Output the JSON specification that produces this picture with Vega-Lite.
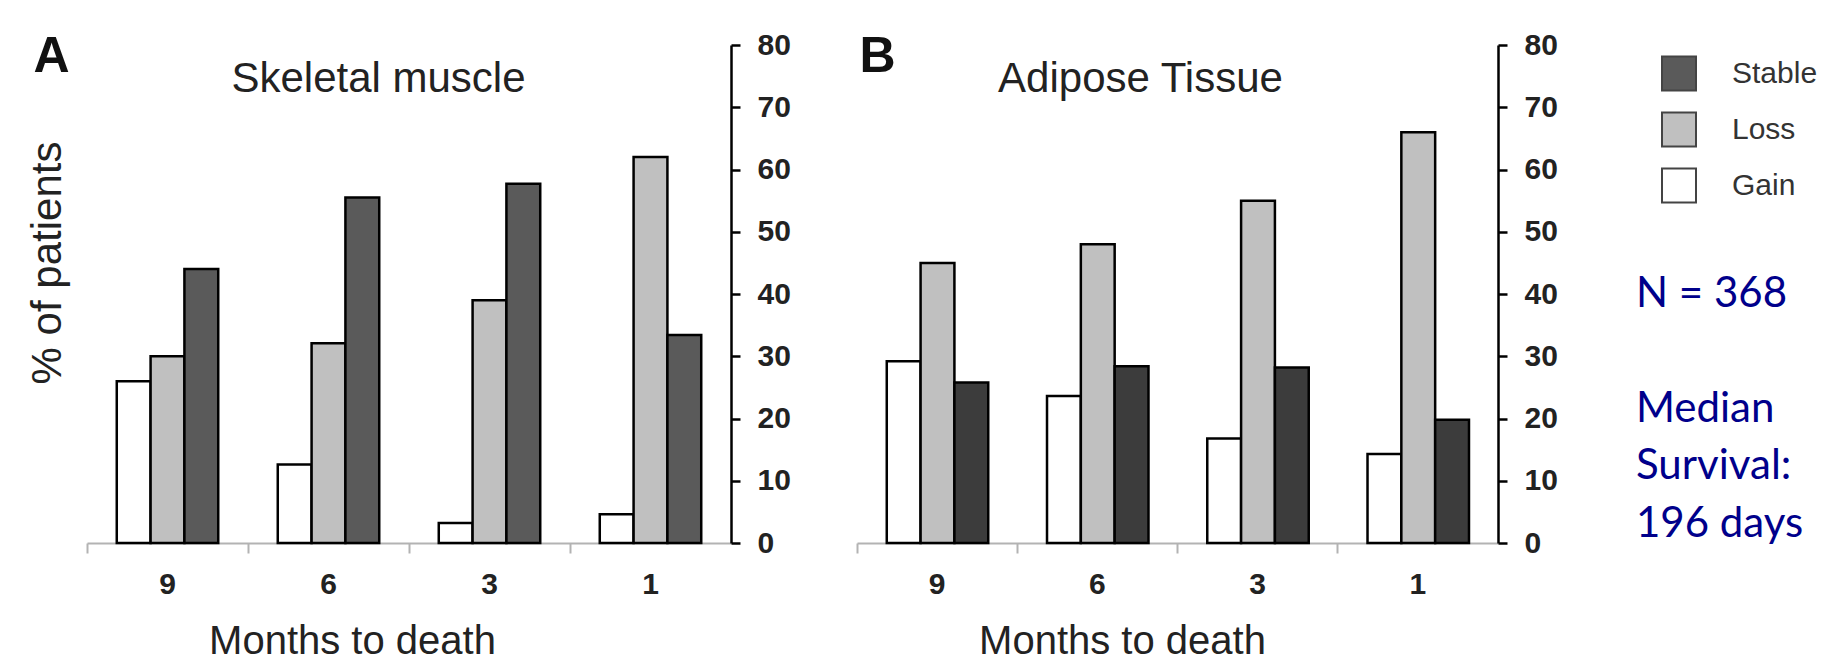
{
  "$schema": "https://vega.github.io/schema/vega-lite/v6.json",
  "background": "white",
  "padding": {"left": 25, "top": 30, "right": 0, "bottom": 0},
  "bounds": "flush",
  "spacing": 126,
  "datasets": {
    "muscle": [
      {"month": "9", "status": "Gain", "pct": 26},
      {"month": "9", "status": "Loss", "pct": 30},
      {"month": "9", "status": "Stable", "pct": 44},
      {"month": "6", "status": "Gain", "pct": 12.6},
      {"month": "6", "status": "Loss", "pct": 32.1},
      {"month": "6", "status": "Stable", "pct": 55.5},
      {"month": "3", "status": "Gain", "pct": 3.2},
      {"month": "3", "status": "Loss", "pct": 39},
      {"month": "3", "status": "Stable", "pct": 57.7},
      {"month": "1", "status": "Gain", "pct": 4.6},
      {"month": "1", "status": "Loss", "pct": 62},
      {"month": "1", "status": "Stable", "pct": 33.4}
    ],
    "adipose": [
      {"month": "9", "status": "Gain", "pct": 29.2},
      {"month": "9", "status": "Loss", "pct": 45},
      {"month": "9", "status": "Stable", "pct": 25.8},
      {"month": "6", "status": "Gain", "pct": 23.6},
      {"month": "6", "status": "Loss", "pct": 48},
      {"month": "6", "status": "Stable", "pct": 28.4},
      {"month": "3", "status": "Gain", "pct": 16.8},
      {"month": "3", "status": "Loss", "pct": 55},
      {"month": "3", "status": "Stable", "pct": 28.2},
      {"month": "1", "status": "Gain", "pct": 14.3},
      {"month": "1", "status": "Loss", "pct": 66},
      {"month": "1", "status": "Stable", "pct": 19.8}
    ],
    "notes": [
      {"line": "N = 368", "row": 1},
      {"line": "Median", "row": 3},
      {"line": "Survival:", "row": 4},
      {"line": "196 days", "row": 5}
    ]
  },
  "resolve": {"scale": {"color": "independent"}},
  "hconcat": [
    {
      "width": 644,
      "height": 498,
      "data": {"name": "muscle"},
      "resolve": {"axis": {"x": "independent", "y": "independent"}},
      "layer": [
        {
          "mark": {"type": "bar", "stroke": "black", "strokeWidth": 2.5},
          "encoding": {
            "x": {"field": "month", "type": "nominal", "sort": ["9", "6", "3", "1"], "scale": {"paddingInner": 0, "paddingOuter": 0},
              "axis": {"orient": "bottom", "ticks": false, "tickSize": 0, "domainColor": "#b3b3b3", "domainWidth": 2, "labelFont": "Liberation Sans", "labelFontWeight": "bold", "labelFontSize": 30, "labelColor": "#222222", "labelPadding": 26, "labelAngle": 0, "title": "Months to death", "titleFont": "Liberation Sans", "titleFontSize": 40, "titleFontWeight": "normal", "titleColor": "#222222", "titleX": 265, "titleY": 110, "titleAlign": "center", "titleBaseline": "alphabetic"}},
            "xOffset": {"field": "status", "type": "nominal", "sort": ["Gain", "Loss", "Stable"], "scale": {"paddingInner": 0, "paddingOuter": 0.88}},
            "y": {"field": "pct", "type": "quantitative", "scale": {"domain": [0, 80]},
              "axis": {"orient": "right", "values": [0, 10, 20, 30, 40, 50, 60, 70, 80], "domainColor": "black", "domainWidth": 2.5, "tickColor": "black", "tickWidth": 2.5, "tickSize": 9, "labelFont": "Liberation Sans", "labelFontWeight": "bold", "labelFontSize": 30, "labelColor": "#222222", "labelPadding": 17, "title": null}},
            "color": {"field": "status", "type": "nominal", "scale": {"domain": ["Stable", "Loss", "Gain"], "range": ["#5a5a5a", "#c0c0c0", "#ffffff"]},
              "legend": {"orient": "none", "legendX": 1574, "legendY": 10.5, "title": null, "padding": 0, "symbolType": "square", "symbolSize": 1156, "symbolStrokeColor": "#444444", "symbolStrokeWidth": 2, "labelFont": "Liberation Sans", "labelFontSize": 30, "labelColor": "#333333", "labelOffset": 35, "rowPadding": 14}}
          }
        },
        {
          "mark": {"type": "bar", "opacity": 0},
          "encoding": {
            "x": {"field": "month", "type": "nominal", "sort": ["9", "6", "3", "1"], "scale": {"paddingInner": 0, "paddingOuter": 0},
              "axis": {"orient": "bottom", "bandPosition": 0, "labels": false, "domain": false, "ticks": true, "tickColor": "#b3b3b3", "tickWidth": 2, "tickSize": 10, "title": null}},
            "xOffset": {"field": "status", "type": "nominal", "sort": ["Gain", "Loss", "Stable"], "scale": {"paddingInner": 0, "paddingOuter": 0.88}},
            "y": {"field": "pct", "type": "quantitative", "scale": {"domain": [0, 80]},
              "axis": {"orient": "left", "labels": false, "ticks": false, "domain": false, "title": "% of patients", "titleFont": "Liberation Sans", "titleFontSize": 42, "titleFontWeight": "normal", "titleColor": "#222222", "titleAngle": 270, "titleX": -27, "titleY": 217.5, "titleAlign": "center", "titleBaseline": "alphabetic"}}
          }
        },
        {
          "mark": {"type": "bar", "opacity": 0},
          "encoding": {
            "x": {"field": "month", "type": "nominal", "sort": ["9", "6", "3", "1"], "scale": {"paddingInner": 0, "paddingOuter": 0},
              "axis": {"orient": "top", "labels": false, "ticks": false, "domain": false, "title": "Skeletal muscle", "titleFont": "Liberation Sans", "titleFontSize": 42, "titleFontWeight": "normal", "titleColor": "#222222", "titleX": 291, "titleY": 46.5, "titleAlign": "center", "titleBaseline": "alphabetic"}},
            "xOffset": {"field": "status", "type": "nominal", "sort": ["Gain", "Loss", "Stable"], "scale": {"paddingInner": 0, "paddingOuter": 0.88}},
            "y": {"field": "pct", "type": "quantitative", "scale": {"domain": [0, 80]},
              "axis": {"orient": "left", "labels": false, "ticks": false, "domain": false, "title": "A", "titleFont": "Liberation Sans", "titleFontSize": 50, "titleFontWeight": "bold", "titleColor": "#111111", "titleAngle": 0, "titleX": -54, "titleY": 26.5, "titleAlign": "left", "titleBaseline": "alphabetic"}}
          }
        }
      ]
    },
    {
      "width": 641,
      "height": 498,
      "data": {"name": "adipose"},
      "resolve": {"axis": {"x": "independent", "y": "independent"}},
      "layer": [
        {
          "mark": {"type": "bar", "stroke": "black", "strokeWidth": 2.5},
          "encoding": {
            "x": {"field": "month", "type": "nominal", "sort": ["9", "6", "3", "1"], "scale": {"paddingInner": 0, "paddingOuter": 0},
              "axis": {"orient": "bottom", "ticks": false, "tickSize": 0, "domainColor": "#b3b3b3", "domainWidth": 2, "labelFont": "Liberation Sans", "labelFontWeight": "bold", "labelFontSize": 30, "labelColor": "#222222", "labelPadding": 26, "labelAngle": 0, "title": "Months to death", "titleFont": "Liberation Sans", "titleFontSize": 40, "titleFontWeight": "normal", "titleColor": "#222222", "titleX": 265, "titleY": 110, "titleAlign": "center", "titleBaseline": "alphabetic"}},
            "xOffset": {"field": "status", "type": "nominal", "sort": ["Gain", "Loss", "Stable"], "scale": {"paddingInner": 0, "paddingOuter": 0.88}},
            "y": {"field": "pct", "type": "quantitative", "scale": {"domain": [0, 80]},
              "axis": {"orient": "right", "values": [0, 10, 20, 30, 40, 50, 60, 70, 80], "domainColor": "black", "domainWidth": 2.5, "tickColor": "black", "tickWidth": 2.5, "tickSize": 9, "labelFont": "Liberation Sans", "labelFontWeight": "bold", "labelFontSize": 30, "labelColor": "#222222", "labelPadding": 17, "title": null}},
            "color": {"field": "status", "type": "nominal", "scale": {"domain": ["Stable", "Loss", "Gain"], "range": ["#3c3c3c", "#c0c0c0", "#ffffff"]}, "legend": null}
          }
        },
        {
          "mark": {"type": "bar", "opacity": 0},
          "encoding": {
            "x": {"field": "month", "type": "nominal", "sort": ["9", "6", "3", "1"], "scale": {"paddingInner": 0, "paddingOuter": 0},
              "axis": {"orient": "bottom", "bandPosition": 0, "labels": false, "domain": false, "ticks": true, "tickColor": "#b3b3b3", "tickWidth": 2, "tickSize": 10, "title": null}},
            "xOffset": {"field": "status", "type": "nominal", "sort": ["Gain", "Loss", "Stable"], "scale": {"paddingInner": 0, "paddingOuter": 0.88}},
            "y": {"field": "pct", "type": "quantitative", "scale": {"domain": [0, 80]}, "axis": null}
          }
        },
        {
          "mark": {"type": "bar", "opacity": 0},
          "encoding": {
            "x": {"field": "month", "type": "nominal", "sort": ["9", "6", "3", "1"], "scale": {"paddingInner": 0, "paddingOuter": 0},
              "axis": {"orient": "top", "labels": false, "ticks": false, "domain": false, "title": "Adipose Tissue", "titleFont": "Liberation Sans", "titleFontSize": 42, "titleFontWeight": "normal", "titleColor": "#222222", "titleX": 283, "titleY": 46.5, "titleAlign": "center", "titleBaseline": "alphabetic"}},
            "xOffset": {"field": "status", "type": "nominal", "sort": ["Gain", "Loss", "Stable"], "scale": {"paddingInner": 0, "paddingOuter": 0.88}},
            "y": {"field": "pct", "type": "quantitative", "scale": {"domain": [0, 80]},
              "axis": {"orient": "left", "labels": false, "ticks": false, "domain": false, "title": "B", "titleFont": "Liberation Sans", "titleFontSize": 50, "titleFontWeight": "bold", "titleColor": "#111111", "titleAngle": 0, "titleX": 2, "titleY": 26.5, "titleAlign": "left", "titleBaseline": "alphabetic"}}
          }
        }
      ]
    },
    {
      "width": 24,
      "height": 498,
      "data": {"name": "notes"},
      "mark": {"type": "text", "align": "left", "baseline": "alphabetic", "font": "Lato", "fontSize": 42, "color": "#00008b"},
      "encoding": {
        "y": {"field": "row", "type": "quantitative", "scale": {"domain": [-3.548, 5.113], "reverse": true, "nice": false, "zero": false}, "axis": null},
        "text": {"field": "line", "type": "nominal"}
      }
    }
  ],
  "config": {
    "view": {"stroke": null},
    "axis": {"grid": false}
  }
}
